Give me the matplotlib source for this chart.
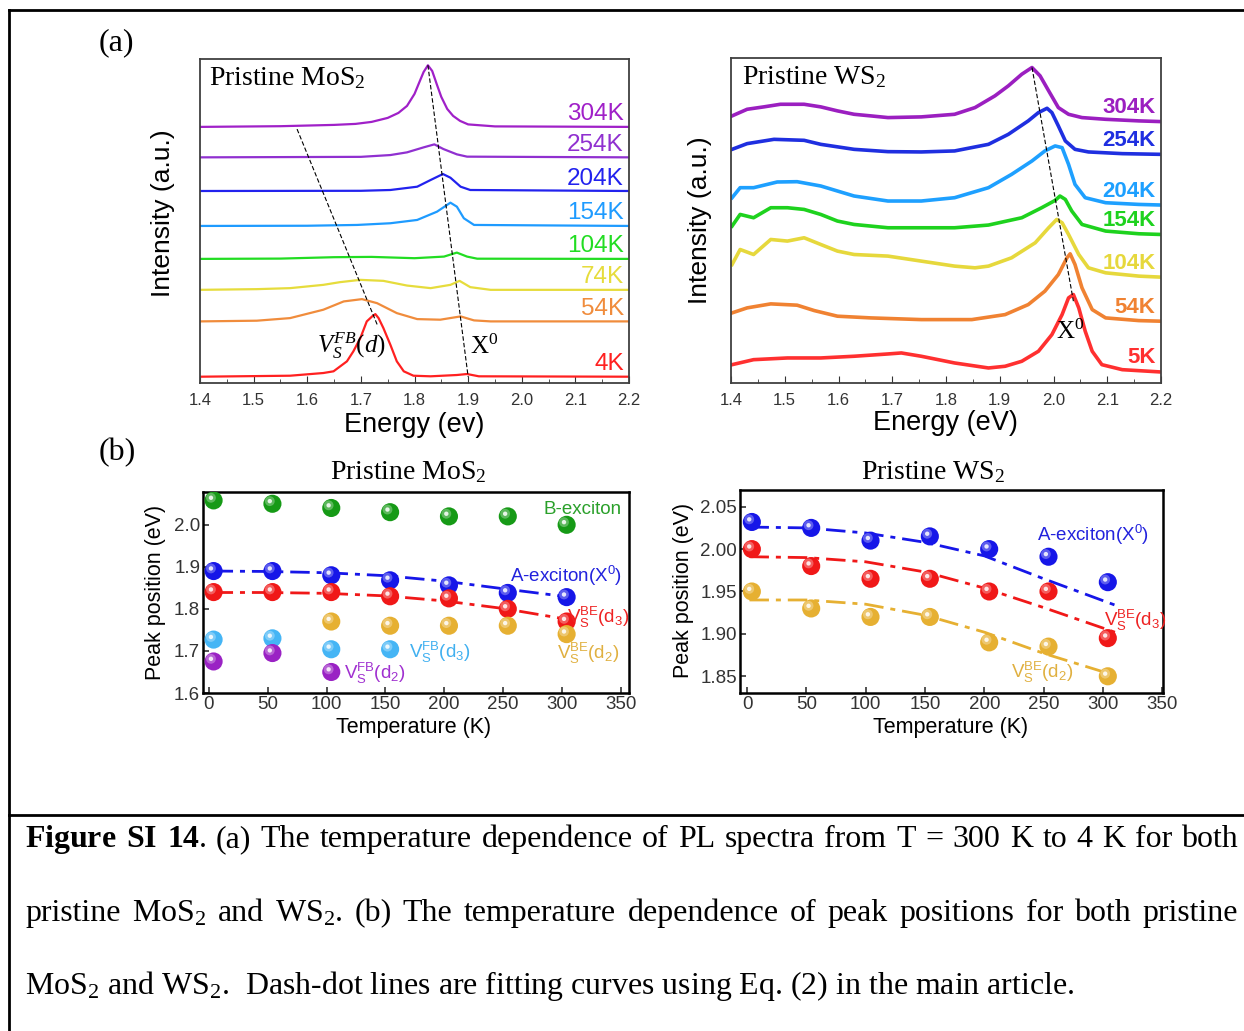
import numpy as np
import matplotlib
matplotlib.use("Agg")
import matplotlib.pyplot as plt
from matplotlib import transforms
from matplotlib.ticker import FormatStrFormatter, MultipleLocator

W, H = 1244, 1031
plt.rcParams.update({"font.family": ["Liberation Sans", "DejaVu Sans"],
                     "mathtext.fontset": "custom",
                     "mathtext.rm": "Liberation Serif",
                     "mathtext.it": "Liberation Serif:italic",
                     "mathtext.bf": "Liberation Serif:bold",
                     "mathtext.default": "regular"})
SERIF = ["Liberation Serif", "DejaVu Serif"]

# ---------------- (a) PL spectra, MoS2 (energy eV / intensity a.u.) ----------------
mos2_E_304 = [1.40, 1.55, 1.65, 1.69, 1.72, 1.75, 1.77, 1.786, 1.80, 1.81, 1.817, 1.825,
              1.833, 1.842, 1.85, 1.861, 1.872, 1.885, 1.90, 1.95, 2.20]
mos2_I_304 = [256.5, 257.2, 258.5, 259.5, 261.5, 265.5, 270.5, 277.5, 289.5, 302.5, 311.5,
              318.2, 312.5, 298.5, 286.5, 274.5, 267.5, 262.5, 259, 257, 256.5]
mos2_E_254 = [1.40, 1.70, 1.755, 1.786, 1.817, 1.837, 1.854, 1.879, 1.898, 2.20]
mos2_I_254 = [226, 226.5, 228.3, 231, 236, 239, 234.3, 229, 226.7, 226]
mos2_E_204 = [1.40, 1.70, 1.755, 1.805, 1.830, 1.853, 1.867, 1.886, 1.904, 2.20]
mos2_I_204 = [192.3, 192.5, 193.3, 196.6, 203.3, 209.3, 205.6, 196.6, 193.3, 192.3]
mos2_E_154 = [1.40, 1.60, 1.693, 1.755, 1.805, 1.842, 1.867, 1.879, 1.892, 1.911, 2.20]
mos2_I_154 = [157.3, 157.5, 158.3, 160, 163.3, 171.6, 180.6, 176.6, 165, 158.3, 157.3]
mos2_E_104 = [1.40, 1.55, 1.65, 1.72, 1.80, 1.855, 1.879, 1.898, 1.917, 2.20]
mos2_I_104 = [124.3, 124.6, 126, 126.3, 125, 126.6, 130.6, 126.6, 124.5, 124.3]
mos2_E_74 = [1.40, 1.506, 1.568, 1.630, 1.661, 1.699, 1.742, 1.786, 1.830, 1.867, 1.884,
             1.904, 1.942, 2.20]
mos2_I_74 = [93.3, 94, 95, 98.3, 101, 103.3, 102.3, 97.6, 95, 98.3, 102.3, 96, 93.3, 93.3]
mos2_E_54 = [1.40, 1.506, 1.568, 1.630, 1.668, 1.702, 1.730, 1.767, 1.805, 1.848, 1.886,
             1.911, 1.942, 2.20]
mos2_I_54 = [61.7, 62.4, 65, 73.4, 81.7, 84, 80, 70, 64, 63.4, 66.7, 62.7, 61.7, 61.7]
mos2_E_4 = [1.40, 1.568, 1.630, 1.649, 1.674, 1.686, 1.699, 1.711, 1.721, 1.727, 1.733,
            1.742, 1.755, 1.767, 1.780, 1.798, 1.830, 1.879, 1.898, 1.920, 2.20]
mos2_I_4 = [6.3, 7.3, 10, 11.7, 21.7, 31.7, 45, 61.7, 66.7, 69, 65, 55, 38.3, 21.7, 11.7,
            7.3, 6.7, 8, 9, 6.7, 6.3]
mos2_labels = ["304K", "254K", "204K", "154K", "104K", "74K", "54K", "4K"]
mos2_colors = ["#A020C8", "#9030D0", "#2222EE", "#1E9BFF", "#22DD22", "#E6DC3C", "#F08C3C", "#FF2020"]
# guide lines: defect peak drift and X0 drift
mos2_guide_vs = ([1.581, 1.731], [254.3, 57.7])
mos2_guide_x0 = ([1.825, 1.900], [318.3, 6.3])

# ---------------- (a) PL spectra, WS2 ----------------
ws2_E_304 = [1.402, 1.430, 1.461, 1.492, 1.536, 1.567, 1.598, 1.629, 1.660, 1.692, 1.754, 1.816,
             1.854, 1.891, 1.916, 1.941, 1.960, 1.975, 1.991, 2.009, 2.028, 2.053, 2.097, 2.159, 2.200]
ws2_I_304 = [266.7, 273.3, 275.7, 278.3, 278.3, 275.7, 271.7, 268.3, 266.7, 265, 265.7, 268.3,
             275, 286.7, 296.7, 308.3, 315, 306.7, 291.7, 275, 268.3, 265, 263.3, 261.7, 261]
ws2_E_254 = [1.402, 1.430, 1.480, 1.536, 1.567, 1.629, 1.692, 1.754, 1.816, 1.879, 1.916, 1.953,
             1.972, 1.988, 1.997, 2.009, 2.022, 2.040, 2.065, 2.128, 2.200]
ws2_I_254 = [233.3, 239, 243.3, 242.3, 238.3, 233.3, 231, 230.7, 231.7, 238.3, 248.3, 261.7,
             270, 274.3, 270, 256.7, 241.7, 233.3, 230.7, 229, 228.3]
ws2_E_204 = [1.402, 1.417, 1.442, 1.486, 1.523, 1.567, 1.598, 1.629, 1.692, 1.754, 1.816, 1.879,
             1.922, 1.960, 1.984, 2.003, 2.016, 2.028, 2.040, 2.059, 2.097, 2.159, 2.200]
ws2_I_204 = [185, 195, 195, 200.7, 201, 196.7, 191.7, 186.7, 181.7, 181.7, 185, 195,
             208.3, 221.7, 231.7, 236.7, 235, 218.3, 198.3, 185, 180, 178.3, 177.7]
ws2_E_154 = [1.402, 1.417, 1.442, 1.474, 1.505, 1.536, 1.567, 1.598, 1.629, 1.692, 1.754, 1.816,
             1.879, 1.941, 1.978, 2.003, 2.012, 2.022, 2.034, 2.053, 2.097, 2.159, 2.200]
ws2_I_154 = [156.7, 168.3, 165, 175, 175, 173.3, 168.3, 161.7, 158.3, 155, 155, 155,
             157.7, 165, 175, 182.3, 186.7, 183.3, 171.7, 158.3, 151.7, 149, 148.3]
ws2_E_104 = [1.402, 1.417, 1.442, 1.474, 1.505, 1.536, 1.567, 1.598, 1.629, 1.692, 1.754, 1.816,
             1.854, 1.879, 1.922, 1.966, 1.991, 2.006, 2.016, 2.028, 2.047, 2.065, 2.097, 2.159, 2.200]
ws2_I_104 = [118.3, 133.3, 128.3, 143.3, 141.7, 145, 138.3, 131.7, 128.3, 126.7, 121.7, 116.7,
             115, 116.7, 125, 140, 155, 163.3, 160, 148.3, 128.3, 115, 110, 106.7, 105.7]
ws2_E_54 = [1.402, 1.430, 1.474, 1.523, 1.555, 1.598, 1.660, 1.754, 1.848, 1.910, 1.953, 1.984,
            2.009, 2.025, 2.031, 2.040, 2.053, 2.072, 2.097, 2.159, 2.200]
ws2_I_54 = [70, 75, 79, 77.7, 72.3, 66.7, 65, 63.3, 63.3, 68.3, 78.3, 91.7,
            108.3, 125, 129, 118.3, 95, 73.3, 65, 62.3, 61.7]
ws2_E_5 = [1.402, 1.442, 1.505, 1.567, 1.629, 1.692, 1.717, 1.754, 1.816, 1.879, 1.910, 1.941,
           1.972, 1.997, 2.016, 2.028, 2.037, 2.047, 2.059, 2.072, 2.090, 2.128, 2.200]
ws2_I_5 = [18.3, 23.3, 25, 25, 26.7, 29, 30, 26.7, 20, 15, 16.7, 21.7,
           31.7, 48.3, 68.3, 85, 88.3, 75, 51.7, 31.7, 18.3, 13.3, 11]
ws2_labels = ["304K", "254K", "204K", "154K", "104K", "54K", "5K"]
ws2_colors = ["#9B1FC0", "#1F2FE0", "#1EA0FF", "#1ED21E", "#E6D83C", "#F08232", "#FF3030"]
ws2_guide_x0 = ([1.960, 2.037], [315, 81.7])

# ---------------- (b) peak positions ----------------
T = [4, 54, 104, 154, 204, 254, 304]
mos2_B = [2.058, 2.050, 2.040, 2.030, 2.020, 2.020, 2.000]
mos2_A = [1.890, 1.890, 1.880, 1.868, 1.856, 1.838, 1.828]
mos2_BE_d3 = [1.840, 1.840, 1.840, 1.830, 1.825, 1.800, 1.770]
T_mos2_BE_d2 = [104, 154, 204, 254, 304]
mos2_BE_d2 = [1.770, 1.760, 1.760, 1.760, 1.740]
T_mos2_FB_d3 = [4, 54, 104, 154]
mos2_FB_d3 = [1.727, 1.730, 1.704, 1.704]
T_mos2_FB_d2 = [4, 54, 104]
mos2_FB_d2 = [1.675, 1.695, 1.650]
T_fit_mos2 = [4, 50, 100, 150, 200, 250, 307]
fit_mos2_A = [1.890, 1.889, 1.886, 1.879, 1.866, 1.848, 1.828]
fit_mos2_BE_d3 = [1.839, 1.839, 1.837, 1.831, 1.819, 1.801, 1.774]

ws2_A = [2.032, 2.025, 2.010, 2.015, 2.000, 1.991, 1.961]
ws2_BE_d3 = [2.000, 1.980, 1.965, 1.965, 1.950, 1.950, 1.895]
ws2_BE_d2 = [1.950, 1.930, 1.920, 1.920, 1.890, 1.885, 1.850]
T_fit_ws2 = [2, 50, 100, 150, 200, 250, 310]
fit_ws2_A = [2.026, 2.025, 2.019, 2.008, 1.992, 1.965, 1.934]
fit_ws2_BE_d3 = [1.991, 1.990, 1.985, 1.973, 1.954, 1.931, 1.902]
fit_ws2_BE_d2 = [1.940, 1.940, 1.935, 1.922, 1.902, 1.877, 1.851]

C_GREEN, C_BLUE, C_RED = "#169A16", "#1616E8", "#F01818"
C_GOLD, C_SKY, C_PURP = "#E6B032", "#45B5F5", "#9A22C4"

fig = plt.figure(figsize=(W / 100, H / 100), dpi=100)


def box(l, t, r, b):
    return [l / W, 1 - b / H, (r - l) / W, (b - t) / H]


def ftext(x, y, s, **kw):
    return fig.text(x / W, 1 - y / H, s, **kw)


def spectra_axes(rect, curves, lw, bold, dy):
    ax = fig.add_axes(rect)
    for E, I, lab, col in curves:
        ax.plot(E, I, color=col, lw=lw, solid_joinstyle="round")
        ax.text(2.19, I[-1] + dy, lab, color=col, ha="right", va="center",
                fontsize=16 if bold else 17.5, fontweight="bold" if bold else "normal")
    ax.set_xlim(1.4, 2.2)
    ax.set_ylim(0, 324.5)
    ax.set_yticks([])
    ax.xaxis.set_major_locator(MultipleLocator(0.1))
    ax.xaxis.set_minor_locator(MultipleLocator(0.05))
    ax.xaxis.set_major_formatter(FormatStrFormatter("%.1f"))
    ax.tick_params(axis="x", which="both", direction="in", labelsize=12, colors="#333333", pad=7)
    ax.tick_params(axis="x", which="major", length=5)
    ax.tick_params(axis="x", which="minor", length=3)
    for s in ax.spines.values():
        s.set_color("#404040")
        s.set_linewidth(1.3)
    return ax


# (a) MoS2
mos2_curves = list(zip([mos2_E_304, mos2_E_254, mos2_E_204, mos2_E_154, mos2_E_104, mos2_E_74,
                        mos2_E_54, mos2_E_4],
                       [mos2_I_304, mos2_I_254, mos2_I_204, mos2_I_154, mos2_I_104, mos2_I_74,
                        mos2_I_54, mos2_I_4], mos2_labels, mos2_colors))
ax1 = spectra_axes(box(200, 59, 629, 383), mos2_curves, 1.6, False, 12.5)
ax1.plot(*mos2_guide_vs, color="k", lw=0.8, ls=(0, (4, 2)))
ax1.plot(*mos2_guide_x0, color="k", lw=0.8, ls=(0, (4, 2)))
ax1.text(1.683, 38, r"$\mathit{V}_\mathit{S}^\mathit{FB}(\mathit{d})$", family=SERIF,
         fontsize=18, ha="center", va="center")
ax1.text(1.903, 36, r"X$^0$", family=SERIF, fontsize=18, ha="left", va="center")
ax1.text(0.02, 0.98, r"Pristine MoS$_2$", transform=ax1.transAxes, family=SERIF,
         fontsize=20, ha="left", va="top")

# (a) WS2
ws2_curves = list(zip([ws2_E_304, ws2_E_254, ws2_E_204, ws2_E_154, ws2_E_104, ws2_E_54, ws2_E_5],
                      [ws2_I_304, ws2_I_254, ws2_I_204, ws2_I_154, ws2_I_104, ws2_I_54, ws2_I_5],
                      ws2_labels, ws2_colors))
ax2 = spectra_axes(box(731, 58, 1161, 383), ws2_curves, 2.6, True, 14)
ax2.plot(*ws2_guide_x0, color="k", lw=0.8, ls=(0, (4, 2)))
ax2.text(2.031, 51, r"X$^0$", family=SERIF, fontsize=18, ha="center", va="center")
ax2.text(0.025, 0.98, r"Pristine WS$_2$", transform=ax2.transAxes, family=SERIF,
         fontsize=20, ha="left", va="top")

ftext(163, 213, "Intensity (a.u.)", rotation=90, ha="center", va="center", fontsize=19)
ftext(700, 220, "Intensity (a.u.)", rotation=90, ha="center", va="center", fontsize=19)
ftext(414, 425, "Energy (ev)", ha="center", va="center", fontsize=19.5)
ftext(945, 423, "Energy (eV)", ha="center", va="center", fontsize=19.5)


# (b) peak positions
def spheres(ax, x, y, color):
    ax.scatter(x, y, s=170, color=color, edgecolors="none", zorder=3)
    hl = transforms.offset_copy(ax.transData, fig=fig, x=-1.9, y=1.9, units="points")
    ax.scatter(x, y, s=50, color="white", alpha=0.3, edgecolors="none", transform=hl, zorder=4)
    ax.scatter(x, y, s=10, color="white", alpha=0.85, edgecolors="none", transform=hl, zorder=5)


DASHDOT = (0, (7, 2.5, 1.8, 2.5))


def peak_axes(rect, xlim, ylim, yfmt, ystep):
    ax = fig.add_axes(rect)
    ax.set_xlim(*xlim)
    ax.set_ylim(*ylim)
    ax.xaxis.set_major_locator(MultipleLocator(50))
    ax.yaxis.set_major_locator(MultipleLocator(ystep))
    ax.yaxis.set_major_formatter(FormatStrFormatter(yfmt))
    ax.tick_params(direction="in", length=4, width=1.2, labelsize=13.5, colors="#333333", pad=2)
    for s in ax.spines.values():
        s.set_color("black")
        s.set_linewidth(1.8)
    return ax


LAB = 13.5
ax3 = peak_axes(box(203, 492, 629, 693), (-5, 357), (1.6, 2.078), "%.1f", 0.1)
ax3.plot(T_fit_mos2, fit_mos2_A, color=C_BLUE, lw=2, ls=DASHDOT, zorder=2)
ax3.plot(T_fit_mos2, fit_mos2_BE_d3, color=C_RED, lw=2, ls=DASHDOT, zorder=2)
spheres(ax3, T, mos2_B, C_GREEN)
spheres(ax3, T, mos2_A, C_BLUE)
spheres(ax3, T, mos2_BE_d3, C_RED)
spheres(ax3, T_mos2_BE_d2, mos2_BE_d2, C_GOLD)
spheres(ax3, T_mos2_FB_d3, mos2_FB_d3, C_SKY)
spheres(ax3, T_mos2_FB_d2, mos2_FB_d2, C_PURP)
ax3.text(351, 2.036, "B-exciton", color="#2AA02A", fontsize=LAB, ha="right", va="center")
ax3.text(351, 1.879, "A-exciton(X$^0$)", color="#2222DD", fontsize=LAB, ha="right", va="center")
ax3.text(304, 1.780, "V$_S^{BE}$(d$_3$)", color="#EE2222", fontsize=LAB, ha="left", va="center")
ax3.text(296, 1.694, "V$_S^{BE}$(d$_2$)", color="#E0B040", fontsize=LAB, ha="left", va="center")
ax3.text(170, 1.697, "V$_S^{FB}$(d$_3$)", color="#40B0F0", fontsize=LAB, ha="left", va="center")
ax3.text(115, 1.647, "V$_S^{FB}$(d$_2$)", color="#A030D0", fontsize=LAB, ha="left", va="center")

ax4 = peak_axes(box(740, 490, 1163, 693), (-6, 350.5), (1.8303, 2.0697), "%.2f", 0.05)
ax4.plot(T_fit_ws2, fit_ws2_A, color=C_BLUE, lw=2, ls=DASHDOT, zorder=2)
ax4.plot(T_fit_ws2, fit_ws2_BE_d3, color=C_RED, lw=2, ls=DASHDOT, zorder=2)
ax4.plot(T_fit_ws2, fit_ws2_BE_d2, color=C_GOLD, lw=2, ls=DASHDOT, zorder=2)
spheres(ax4, T, ws2_A, C_BLUE)
spheres(ax4, T, ws2_BE_d3, C_RED)
spheres(ax4, T, ws2_BE_d2, C_GOLD)
ax4.text(244, 2.017, "A-exciton(X$^0$)", color="#2222DD", fontsize=LAB, ha="left", va="center")
ax4.text(301, 1.916, "V$_S^{BE}$(d$_3$)", color="#EE2222", fontsize=LAB, ha="left", va="center")
ax4.text(222, 1.854, "V$_S^{BE}$(d$_2$)", color="#E0B040", fontsize=LAB, ha="left", va="center")

ftext(414, 727, "Temperature (K)", ha="center", va="center", fontsize=15.5)
ftext(951, 727, "Temperature (K)", ha="center", va="center", fontsize=15.5)
ftext(155, 592, "Peak position (eV)", rotation=90, ha="center", va="center", fontsize=15.5)
ftext(684, 590, "Peak position (eV)", rotation=90, ha="center", va="center", fontsize=15.5)

ftext(408, 472, r"Pristine MoS$_2$", family=SERIF, fontsize=20, ha="center", va="center")
ftext(933, 472, r"Pristine WS$_2$", family=SERIF, fontsize=20, ha="center", va="center")
ftext(116, 43, "(a)", family=SERIF, fontsize=23, ha="center", va="center")
ftext(117, 453, "(b)", family=SERIF, fontsize=23, ha="center", va="center")

# page frame
for xs, ys in (([9, W], [10, 10]), ([9, 9], [10, H]), ([9, W], [815, 815])):
    fig.add_artist(plt.Line2D([x / W for x in xs], [1 - y / H for y in ys], color="black", lw=2))

# caption (first two lines justified)
r = fig.canvas.get_renderer()
line1 = [r"$\mathbf{Figure}$", r"$\mathbf{SI}$", r"$\mathbf{14}$.", "(a)", "The", "temperature",
         "dependence", "of", "PL", "spectra", "from", "T", "=", "300", "K", "to", "4", "K", "for", "both"]
line2 = ["pristine", "MoS$_2$", "and", "WS$_2$.", "(b)", "The", "temperature", "dependence", "of",
         "peak", "positions", "for", "both", "pristine"]
line3 = "MoS$_2$ and WS$_2$.  Dash-dot lines are fitting curves using Eq. (2) in the main article."

probe = ftext(25, 994, line3, family=SERIF, fontsize=20, va="baseline")
cap_size = 20 * 1047 / probe.get_window_extent(r).width
probe.set_fontsize(cap_size)


def justify(words, y, x0=25, x1=1238):
    texts = [ftext(0, y, w, family=SERIF, fontsize=cap_size, va="baseline") for w in words]
    widths = [t.get_window_extent(r).width for t in texts]
    gap = (x1 - x0 - sum(widths)) / (len(words) - 1)
    x = x0
    for t, w in zip(texts, widths):
        t.set_x(x / W)
        x += w + gap


justify(line1, 847)
justify(line2, 921)

fig.savefig("out.png", dpi=100)
